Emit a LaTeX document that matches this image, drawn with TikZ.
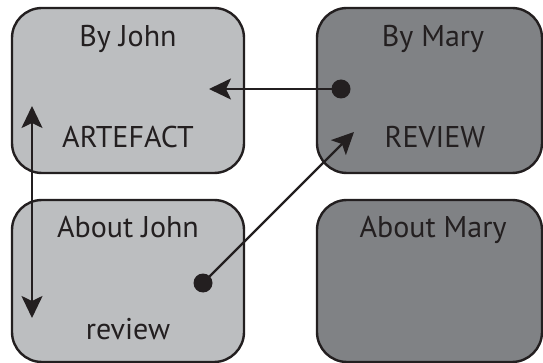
\documentclass[tikz,border=0pt]{standalone}
\usepackage{fontspec}
\setmainfont{PT Sans}
\usetikzlibrary{arrows.meta}
\definecolor{ink}{HTML}{231F20}
\definecolor{lightbox}{HTML}{BCBEC0}
\definecolor{darkbox}{HTML}{808285}
\tikzset{
  panel/.style={draw=ink, line width=2.4pt, rounded corners=30pt, inner sep=0pt},
  lbl/.style={text=ink, font=\fontsize{30}{34}\selectfont, anchor=base, inner sep=0pt},
  dot/.style={circle, fill=ink, inner sep=0pt, minimum size=19pt},
  headtip/.tip={Stealth[length=22pt,width=21pt,inset=5pt]},
  arr/.style={draw=ink, line width=2.2pt, -headtip},
  darr/.style={draw=ink, line width=2.2pt, headtip-headtip}
}
\begin{document}
\begin{tikzpicture}[x=1pt,y=-1pt]
\useasboundingbox (0,0) rectangle (543,363);
\node[panel, fill=lightbox, minimum width=232pt, minimum height=165pt] (byjohn) at (128,90.5) {};
\node[panel, fill=darkbox, minimum width=225pt, minimum height=165pt] (bymary) at (429.5,90.5) {};
\node[panel, fill=lightbox, minimum width=232pt, minimum height=162pt] (aboutjohn) at (128,281) {};
\node[panel, fill=darkbox, minimum width=225pt, minimum height=162pt] (aboutmary) at (429.5,281) {};
\node[lbl] (t1) at (128,47) {By John};
\node[lbl] (t2) at (128,148) {ARTEFACT};
\node[lbl] (t3) at (433,47) {By Mary};
\node[lbl] (t4) at (435,148) {REVIEW};
\node[lbl] (t5) at (128,237) {About John};
\node[lbl] (t6) at (128,339) {review};
\node[lbl] (t7) at (433,237) {About Mary};
\node[dot] (d1) at (341,89) {};
\node[dot] (d2) at (203,283) {};
\coordinate (h1) at (209,89);
\coordinate (h2) at (354,132);
\coordinate (v1) at (32,106);
\coordinate (v2) at (32,318);
\draw[arr] (d1.center) -- (h1);
\draw[arr] (d2.center) -- (h2);
\draw[darr] (v1) -- (v2);
\end{tikzpicture}
\end{document}
